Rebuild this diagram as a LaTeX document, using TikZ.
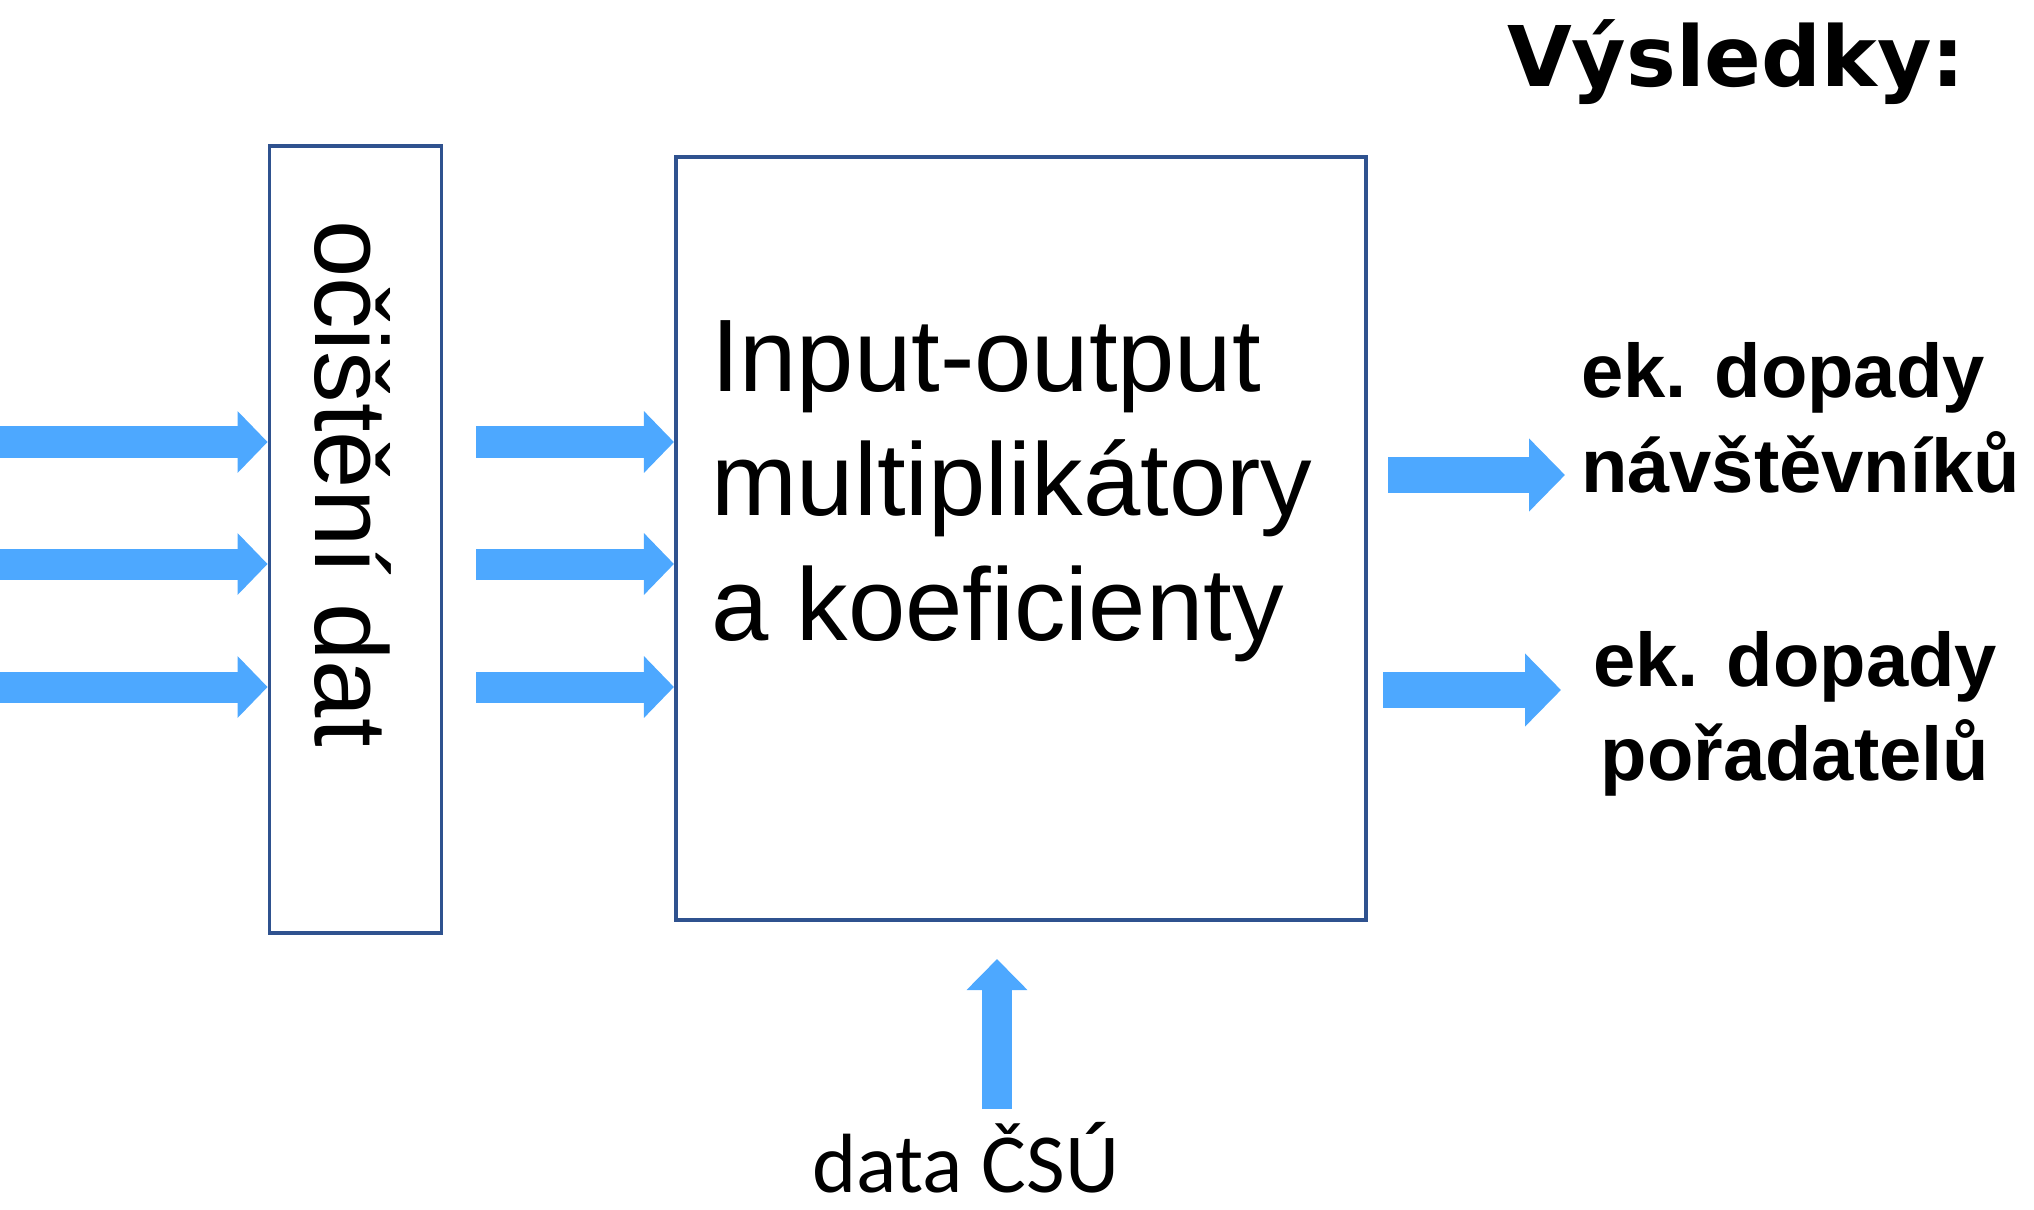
\documentclass[tikz,border=0pt]{standalone}
\usepackage{fontspec}
\setmainfont{Liberation Sans}
\newfontfamily\heavyfont{DejaVu Sans}
\newfontfamily\csufont{Carlito}
\usepackage{tikz}
\usetikzlibrary{arrows.meta, calc}

\definecolor{boxblue}{RGB}{47,82,143}
\definecolor{flowblue}{RGB}{77,168,255}

\tikzset{
  block/.style={draw=boxblue, line width=1.05pt, rectangle, inner sep=0pt},
  txt/.style={inner sep=0pt, outer sep=0pt},
  flow/.style={draw=flowblue, line width=3.1mm, -{Triangle[width=6mm,length=3mm]}},
  flowout/.style={draw=flowblue, line width=3.6mm, -{Triangle[width=7.1mm,length=3.6mm]}},
  flowup/.style={draw=flowblue, line width=3mm, -{Triangle[width=5.9mm,length=3.1mm]}},
}

\begin{document}
\begin{tikzpicture}[x=0.01cm, y=-0.01cm]
  \useasboundingbox (0,0) rectangle (2034,1209);

  \node[block, minimum width=1.72cm, minimum height=7.86cm] at (355.5,539.5) (clean) {};
  \node[block, minimum width=6.9cm, minimum height=7.62cm] at (1021,538.5) (io) {};

  % base anchor of a multi-line node = baseline of its last line
  \node[txt, rotate=-90, anchor=base west, font=\fontsize{29.3}{35}\selectfont] at (315,220) (cleanlbl) {očištění dat};
  \node[txt, anchor=base west, align=left, font=\fontsize{29.3}{35.3}\selectfont] at (711,640) (iolbl) {Input-output\\multiplikátory\\a koeficienty};

  \node[txt, anchor=base west, font=\heavyfont\bfseries\fontsize{23.8}{28}\selectfont] at (1507,86) (title) {Výsledky:};
  \node[txt, anchor=base west, align=left, font=\bfseries\fontsize{21.6}{27}\selectfont] at (1581,492) (res1) {ek. dopady\\návštěvníků};
  \node[txt, anchor=base, align=center, font=\bfseries\fontsize{21.6}{26.5}\selectfont] at (1795,780) (res2) {ek. dopady\\pořadatelů};
  \node[txt, anchor=base west, font=\csufont\fontsize{23.9}{28}\selectfont] at (812,1192) (csu) {data ČSÚ};

  % inputs
  \foreach \y/\n in {442/1,564/2,687/3} {
    \coordinate (src\n) at (0,\y);
    \coordinate (mid\n) at (476,\y);
    \draw[flow] (src\n) -- (src\n -| clean.west);
    \draw[flow] (mid\n) -- (mid\n -| io.west);
  }

  % results
  \coordinate (out1) at (1388,475);
  \coordinate (hit1) at (1565,475);
  \coordinate (out2) at (1383,690);
  \coordinate (hit2) at (1561,690);
  \draw[flowout] (out1) -- (hit1);
  \draw[flowout] (out2) -- (hit2);

  \coordinate (up1) at (997,1109);
  \coordinate (up2) at (997,959);
  \draw[flowup] (up1) -- (up2);
\end{tikzpicture}
\end{document}
